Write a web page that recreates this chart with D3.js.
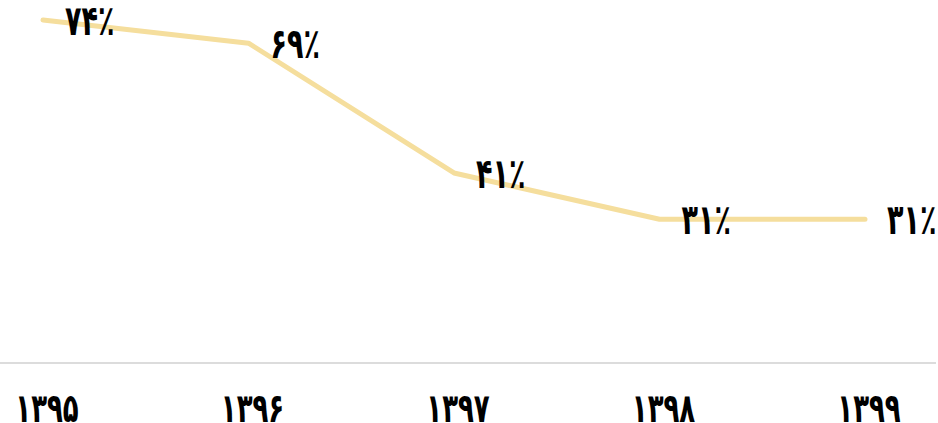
<!DOCTYPE html>
<html>
<head>
<meta charset="utf-8">
<script src="https://cdn.jsdelivr.net/npm/d3@7"></script>
<style>
  body { margin: 0; background: #fff; }
  text { font-family: "DejaVu Sans", sans-serif; font-weight: bold; fill: #000; }
</style>
</head>
<body>
<script>
// data
const years = ['۱۳۹۵', '۱۳۹۶', '۱۳۹۷', '۱۳۹۸', '۱۳۹۹']
const values = [74, 69, 41, 31, 31]
const valueLabels = ['۷۴٪', '۶۹٪', '۴۱٪', '۳۱٪', '۳۱٪']

const width = 938
const height = 423

const svg = d3.select('body')
  .append('svg')
  .attr('width', width)
  .attr('height', height)

const x = d3.scalePoint()
  .domain(years)
  .range([43, 865])

const y = d3.scaleLinear()
  .domain([0, 74])
  .range([363, 20])

// baseline
svg.append('line')
  .attr('x1', 0)
  .attr('x2', 936)
  .attr('y1', y(0))
  .attr('y2', y(0))
  .attr('stroke', '#dcdcdc')
  .attr('stroke-width', 2)

const points = years.map((d, i) => ({ year: d, value: values[i], label: valueLabels[i] }))

const line = d3.line()
  .x(d => x(d.year))
  .y(d => y(d.value))

svg.append('path')
  .datum(points)
  .attr('d', line)
  .attr('fill', 'none')
  .attr('stroke', '#f5de9d')
  .attr('stroke-width', 5)
  .attr('stroke-linecap', 'round')
  .attr('stroke-linejoin', 'round')

// the original font has taller digits, so stretch a bit vertically
svg.selectAll('.value-label')
  .data(points)
  .enter()
  .append('g')
  .attr('transform', d => `translate(${x(d.year) + 22},${y(d.value)}) scale(1,1.55)`)
  .append('text')
  .attr('class', 'value-label')
  .attr('dy', '0.35em')
  .attr('font-size', 27)
  .text(d => d.label)

// x axis labels
svg.selectAll('.year-label')
  .data(years)
  .enter()
  .append('g')
  .attr('transform', d => `translate(${x(d) + 4},408) scale(1,1.55)`)
  .append('text')
  .attr('class', 'year-label')
  .attr('dy', '0.35em')
  .attr('text-anchor', 'middle')
  .attr('font-size', 26)
  .text(d => d)
</script>
</body>
</html>
